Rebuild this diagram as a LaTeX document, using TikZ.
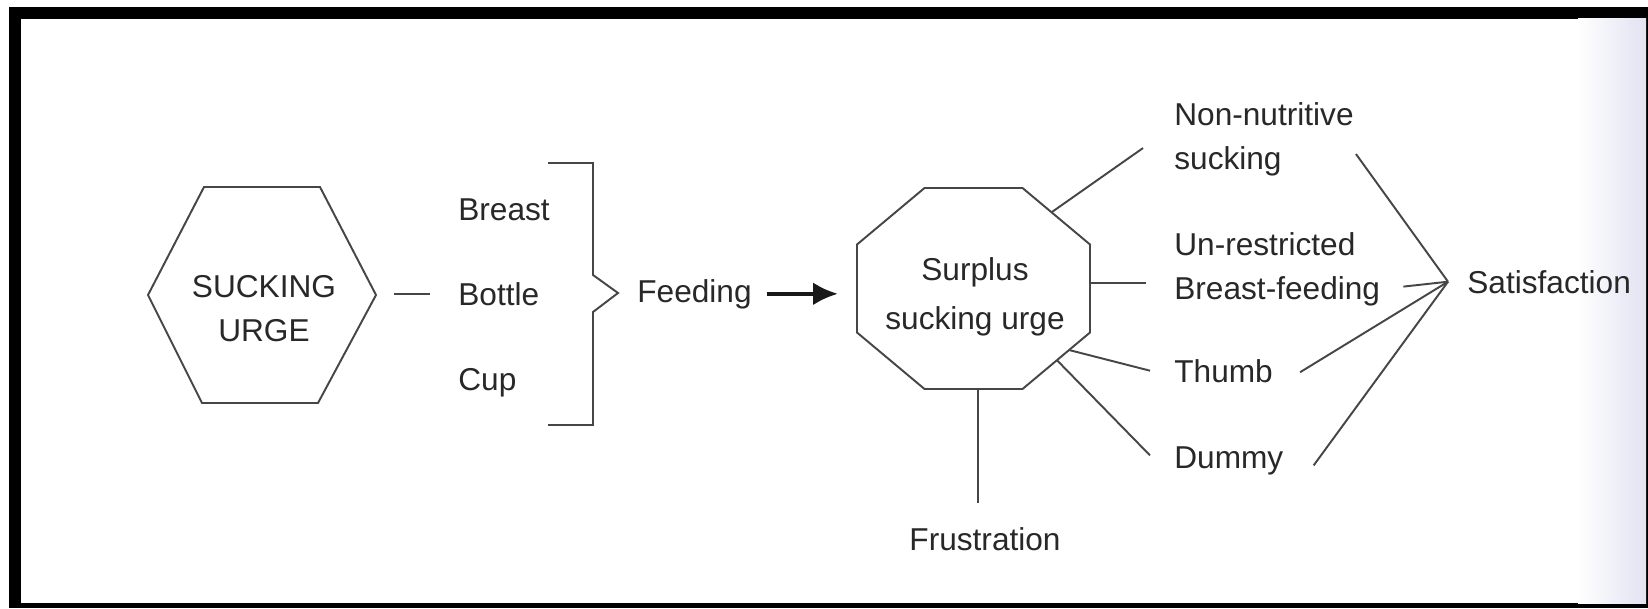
\documentclass[tikz,border=0pt]{standalone}
\usepackage{fontspec}
\setmainfont{Liberation Sans}
\usetikzlibrary{calc,arrows.meta}
\definecolor{inkgrey}{RGB}{40,40,40}
\definecolor{linegrey}{RGB}{70,70,70}
\definecolor{scanblue}{RGB}{226,226,242}

\begin{document}
\begin{tikzpicture}[x=0.02cm, y=-0.02cm,
    lbl/.style={inner sep=0pt, text=inkgrey, font=\fontsize{18}{25}\selectfont},
    conn/.style={draw=linegrey, line width=1.1pt},
    outline/.style={draw=linegrey, line width=1.1pt, line join=miter}]
  \useasboundingbox (0,0) rectangle (1648,608);
  \fill[black] (9,7) rectangle (1648,608);
  \fill[white] (21,19) rectangle (1646,603);
  \shade[left color=white, right color=scanblue] (1578,19) rectangle (1646,603);

  \coordinate (hexc) at (262,295);
  \coordinate (hexe) at (376,295);
  \draw[outline] (hexc) ++(-114,0) -- ++(56,-108) -- ++(116,0) -- (hexe) -- ++(-58,108) -- ++(-116,0) -- cycle;
  \node[lbl, align=center, anchor=north] (urge) at (264,275) {SUCKING\\URGE};

  \node[lbl, anchor=base west] (breast) at (458,220) {Breast};
  \node[lbl, anchor=base west] (bottle) at (458,305) {Bottle};
  \node[lbl, anchor=base west] (cup) at (458,390) {Cup};
  \draw[conn, shorten <=0.36cm, shorten >=0.56cm] (bottle.west -| hexe) -- (bottle.west);

  \coordinate (brk) at (593,293);
  \draw[outline] ($(brk)+(-45,-130)$) -- ++(45,0) -- ++(0,112) -- ++(25,18) -- ++(-25,19) -- ++(0,113) -- ++(-45,0);

  \node[lbl, anchor=base west] (feed) at (637,302) {Feeding};

  \coordinate (octc) at (973.5,288.5);
  \path (octc) +(-49,-100.5) coordinate (oa) +(49,-100.5) coordinate (ob)
               +(116.5,-44) coordinate (oc) +(116.5,44) coordinate (od)
               +(49,100.5) coordinate (oe) +(-49,100.5) coordinate (of)
               +(-116.5,44) coordinate (og) +(-116.5,-44) coordinate (oh);
  \draw[outline] (oa) -- (ob) -- (oc) -- (od) -- (oe) -- (of) -- (og) -- (oh) -- cycle;
  \node[lbl, align=center, anchor=north] (surplus) at (975,257) {Surplus\\[3pt]sucking urge};

  \draw[black!90, line width=2.3pt, -{Latex[length=0.5cm,width=0.46cm]},
        shorten <=0.3cm, shorten >=0.38cm] (feed.east) -- (feed.east -| og);

  \node[lbl, align=left, anchor=north west] (nonnut) at (1174,102) {Non-nutritive\\sucking};
  \node[lbl, align=left, anchor=north west] (unres) at (1174,232) {Un-restricted\\Breast-feeding};
  \node[lbl, anchor=base west] (thumb) at (1174,382) {Thumb};
  \node[lbl, anchor=base west] (dummy) at (1174,468) {Dummy};
  \node[lbl, anchor=base] (frus) at (985,550) {Frustration};
  \node[lbl, anchor=base west] (sat) at (1467,293) {Satisfaction};
  \coordinate (conv) at ($(sat.west)+(-19,0)$);

  \path ($(oc)!0.44!(od)$) coordinate (bfl);
  \path ($(of)!0.546!(oe)$) coordinate (fru);
  \draw[conn] ($(ob)!0.43!(oc)$) -- ($(nonnut.west)+(-31,9)$);
  \draw[conn] (bfl) -- ($(bfl -| unres.west)+(-28,0)$);
  \draw[conn] ($(od)!0.31!(oe)$) -- ($(thumb.west)+(-24,0)$);
  \draw[conn] ($(od)!0.49!(oe)$) -- ($(dummy.west)+(-24,-5)$);
  \draw[conn, shorten >=0.48cm] (fru) -- (fru |- frus.north);

  \draw[conn] ($(nonnut.east)+(2,15)$) -- (conv);
  \draw[conn] ($(unres.south east)+(23,-19.5)$) -- (conv);
  \draw[conn] ($(thumb.east)+(27,1.5)$) -- (conv);
  \draw[conn] ($(dummy.east)+(30,5)$) -- (conv);
\end{tikzpicture}
\end{document}
